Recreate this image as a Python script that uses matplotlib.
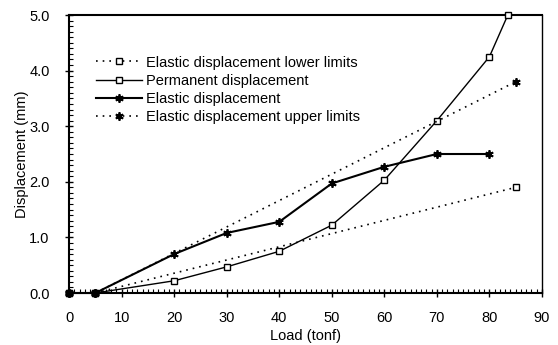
import matplotlib
matplotlib.use("Agg")
import matplotlib.pyplot as plt
from matplotlib.ticker import MultipleLocator, FormatStrFormatter

plt.rcParams['font.family'] = ['Liberation Sans', 'DejaVu Sans']

# Data
lower_x = [0, 5, 85]
lower_y = [0.0, 0.0, 1.9]

perm_x = [0, 5, 20, 30, 40, 50, 60, 70, 80, 83.5]
perm_y = [0.0, 0.0, 0.22, 0.47, 0.75, 1.22, 2.03, 3.1, 4.25, 5.0]

elastic_x = [0, 5, 20, 30, 40, 50, 60, 70, 80]
elastic_y = [0.0, 0.0, 0.7, 1.08, 1.28, 1.97, 2.27, 2.5, 2.5]

upper_x = [0, 5, 85]
upper_y = [0.0, 0.0, 3.8]

labels = ["Elastic displacement lower limits", "Permanent displacement",
          "Elastic displacement", "Elastic displacement upper limits"]

fig = plt.figure(figsize=(5.58, 3.45), dpi=100)
ax = fig.add_axes([0.1237, 0.1507, 0.8476, 0.8058])

star = (6, 2, 0)
ax.plot(lower_x, lower_y, linestyle=(0, (1, 3)), color='black', lw=1.2,
        marker='s', markersize=5, markerfacecolor='white', markeredgewidth=1.0,
        label=labels[0], clip_on=False, zorder=3)
ax.plot(perm_x, perm_y, linestyle='-', color='black', lw=1.0,
        marker='s', markersize=5, markerfacecolor='white', markeredgewidth=1.0,
        label=labels[1], clip_on=False, zorder=3)
ax.plot(elastic_x, elastic_y, linestyle='-', color='black', lw=1.5,
        marker=star, markersize=6, markeredgewidth=1.3,
        label=labels[2], clip_on=False, zorder=3)
ax.plot(upper_x, upper_y, linestyle=(0, (1, 3)), color='black', lw=1.2,
        marker=star, markersize=6, markeredgewidth=1.3,
        label=labels[3], clip_on=False, zorder=3)

ax.set_xlim(0, 90)
ax.set_ylim(0, 5)
ax.xaxis.set_major_locator(MultipleLocator(10))
ax.xaxis.set_minor_locator(MultipleLocator(1))
ax.yaxis.set_major_locator(MultipleLocator(1))
ax.yaxis.set_minor_locator(MultipleLocator(0.1))
ax.yaxis.set_major_formatter(FormatStrFormatter('%.1f'))

ax.tick_params(which='major', direction='inout', length=6, width=1.0, labelsize=10.5)
ax.tick_params(which='minor', direction='in', length=3, width=0.8)
ax.tick_params(axis='x', which='major', pad=10)
ax.tick_params(axis='y', which='major', pad=11)

for s in ax.spines.values():
    s.set_linewidth(1.0)
ax.spines['bottom'].set_linewidth(1.5)
ax.spines['left'].set_linewidth(1.5)
ax.spines['top'].set_linewidth(1.5)

ax.set_xlabel("Load (tonf)", fontsize=10.5, labelpad=3)
ax.set_ylabel("Displacement (mm)", fontsize=10.5, labelpad=0)

leg = ax.legend(loc='upper left', bbox_to_anchor=(0.045, 0.875), frameon=False,
                fontsize=10.5, handlelength=3.15, handletextpad=0.3,
                labelspacing=0.28, borderaxespad=0)

fig.savefig("out.png", dpi=100)
